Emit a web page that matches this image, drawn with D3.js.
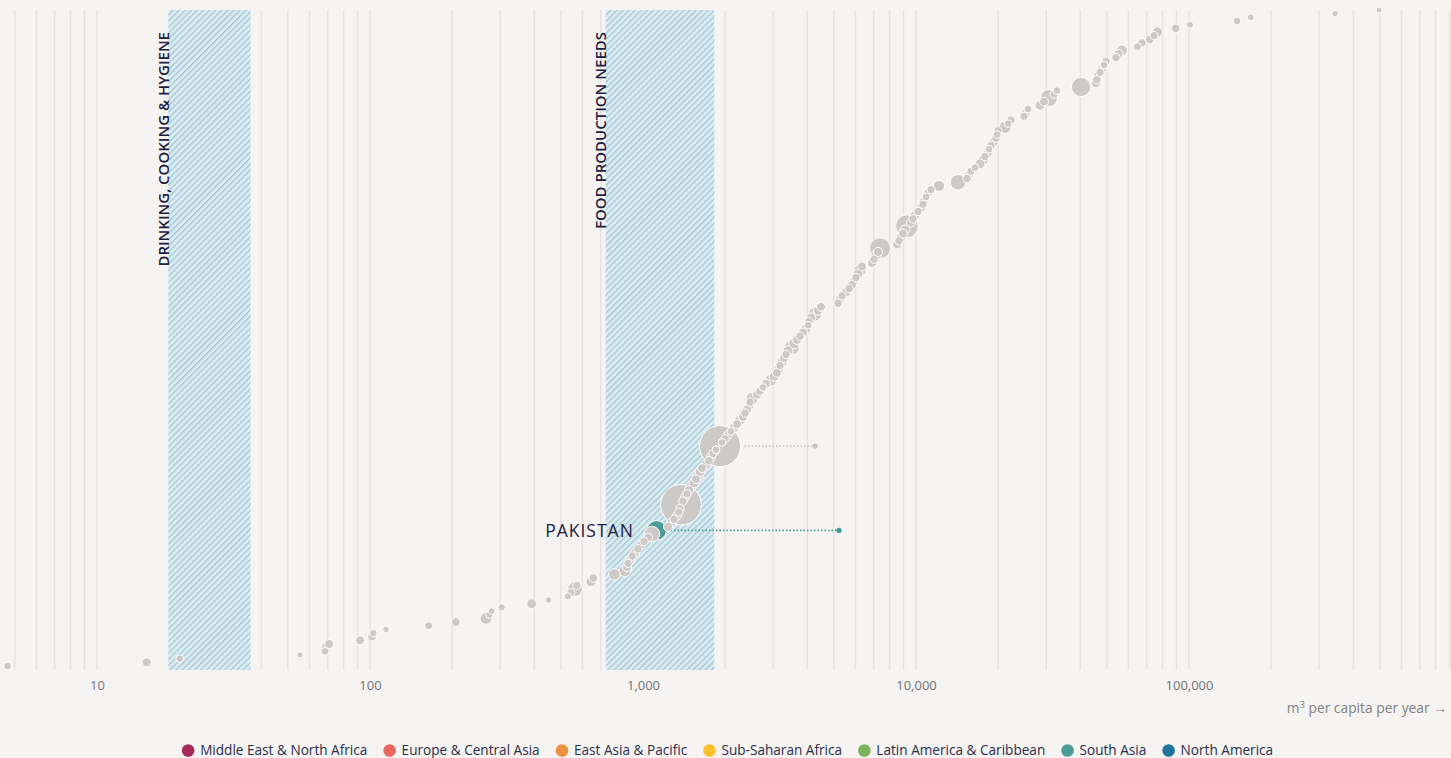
<!DOCTYPE html>
<html>
<head>
<meta charset="utf-8">
<script src="https://cdn.jsdelivr.net/npm/d3@7"></script>
<style>
  html, body { margin: 0; padding: 0; background: #f5f4f2; }
  svg { display: block; font-family: "Open Sans", sans-serif; }
</style>
</head>
<body>
<svg id="chart" width="1451" height="758"></svg>
<script>
// Renewable water per person (m³ per capita per year), one value per country, ascending
const waterPerCapita = [
  4.7, 15.2, 20.1, 55.4, 68.4, 69, 70.8, 91.9, 101.7, 102.8,
  114.5, 164, 206, 266, 273.5, 279, 303.7, 391, 451, 531,
  544, 564, 573, 645, 658, 785, 859, 874, 881, 896,
  912, 935, 958, 983, 1009, 1043, 1079, 1122, 1235, 1267,
  1299, 1332, 1355, 1366, 1378, 1401, 1425, 1449, 1474, 1499,
  1538, 1564, 1591, 1618, 1645, 1701, 1745, 1775, 1805, 1851,
  1915, 1947, 1997, 2048, 2101, 2155, 2210, 2266, 2324, 2364,
  2404, 2445, 2466, 2508, 2616, 2683, 2752, 2822, 2944, 3020,
  3097, 3149, 3176, 3230, 3285, 3341, 3398, 3515, 3575, 3666,
  3760, 3856, 3955, 4022, 4056, 4125, 4267, 4375, 4487, 5180,
  5268, 5358, 5542, 5684, 5830, 5930, 6030, 6133, 6237, 6343,
  6901, 7019, 7138, 7259, 7382, 8520, 8665, 8810, 8960, 9112,
  9268, 9587, 9750, 9916, 10170, 10430, 10610, 10700, 10880, 11070,
  11350, 12140, 14250, 15380, 15640, 15910, 16450, 17160, 17600, 17890,
  18350, 18510, 18820, 19310, 19630, 19800, 19970, 21180, 21730, 22280,
  24860, 25280, 25720, 28460, 29440, 30700, 32030, 32850, 40220, 45630,
  46020, 46410, 47210, 48010, 48830, 49660, 54040, 55190, 56840, 64760,
  67260, 71950, 74430, 76650, 89400, 100850, 149900, 168300, 342500, 496600
];

// Population in millions, same order as waterPerCapita
const population = [
  5, 14, 5, 0.5, 6, 20, 14, 12, 10, 5,
  1, 6, 12, 45, 4, 1.5, 3, 20, 1, 3,
  8, 100, 8, 22, 9, 40, 50, 14, 8, 14,
  9, 16, 9, 14, 9, 14, 110, 220, 14, 16,
  9, 12, 8, 9, 1380, 9, 12, 8, 14, 30,
  25, 12, 30, 20, 12, 25, 10, 14, 8, 6,
  1400, 5, 8, 10, 6, 20, 12, 25, 14, 9,
  12, 16, 8, 50, 12, 9, 6, 14, 45, 20,
  12, 16, 9, 25, 12, 8, 20, 100, 30, 14,
  9, 12, 20, 6, 9, 20, 70, 16, 12, 10,
  12, 8, 16, 9, 12, 14, 9, 20, 50, 12,
  14, 9, 25, 14, 270, 12, 8, 16, 12, 20,
  330, 12, 9, 16, 9, 12, 8, 10, 6, 9,
  8, 35, 110, 9, 12, 8, 6, 20, 25, 9,
  12, 6, 10, 14, 9, 6, 8, 50, 5, 9,
  8, 12, 6, 20, 12, 145, 8, 5, 210, 12,
  9, 14, 8, 12, 6, 9, 8, 12, 30, 6,
  9, 12, 8, 25, 10, 2, 5, 2, 0.5, 0.4
];

// Daily need ranges converted to yearly volumes (litres per day × 365 / 1000)
const needBandLabels = ["DRINKING, COOKING & HYGIENE", "FOOD PRODUCTION NEEDS"];
const needBandFrom = [18.25, 730];
const needBandTo = [36.5, 1825];

const tickValues = [10, 100, 1000, 10000, 100000];
const tickLabels = ["10", "100", "1,000", "10,000", "100,000"];

const regionNames = ["Middle East & North Africa", "Europe & Central Asia", "East Asia & Pacific",
  "Sub-Saharan Africa", "Latin America & Caribbean", "South Asia", "North America"];
const regionColors = ["#a52a5b", "#e8675f", "#ef903f", "#fcc12f", "#7db35c", "#4b9c97", "#1f759c"];

// Countries called out, with their 1962 per-capita water
const highlightIndex = 37;
const highlightLabel = "PAKISTAN";
const highlightRegion = "South Asia";
const highlightEarlier = 5225;
const tracedIndex = 60;
const tracedEarlier = 4270;

const W = 1451, H = 758;
const plotTop = 10, plotBottom = 670;
const svg = d3.select("#chart");

const x = d3.scaleLog().domain([10, 100000]).range([97, 1189]);
const y = d3.scaleLinear().domain([0, waterPerCapita.length - 1]).range([666, 10]);
const r = d3.scaleSqrt().domain([0, 1400]).range([2.8, 20.5]);

const grey = "#cdc9c6";
const teal = regionColors[regionNames.indexOf(highlightRegion)];

// Hatch pattern for the need bands
const defs = svg.append("defs");
const pat = defs.append("pattern")
  .attr("id", "hatch").attr("patternUnits", "userSpaceOnUse")
  .attr("width", 4.3).attr("height", 4.3)
  .attr("patternTransform", "rotate(45)");
pat.append("rect").attr("width", 4.3).attr("height", 4.3).attr("fill", "#d6ecf3");
pat.append("line").attr("x1", 0.6).attr("y1", 0).attr("x2", 0.6).attr("y2", 4.3)
  .attr("stroke", "#a3bac4").attr("stroke-width", 1);

// Log grid lines at every 1–9 multiple inside the plot width
const gridValues = [];
for (let k = 0; k <= 5; k++) {
  for (let m = 1; m <= 9; m++) {
    const v = m * Math.pow(10, k);
    const px = x(v);
    if (px > 2 && px < W - 1) gridValues.push(v);
  }
}
svg.append("g").selectAll("line").data(gridValues).join("line")
  .attr("x1", d => x(d)).attr("x2", d => x(d))
  .attr("y1", plotTop).attr("y2", plotBottom)
  .attr("stroke", "#e6e4e1").attr("stroke-width", 1.5);

// Need bands
const bands = svg.append("g");
needBandLabels.forEach((label, i) => {
  const x0 = x(needBandFrom[i]), x1 = x(needBandTo[i]);
  bands.append("rect")
    .attr("x", x0).attr("y", plotTop).attr("width", x1 - x0).attr("height", plotBottom - plotTop)
    .attr("fill", "url(#hatch)");
  bands.append("text")
    .attr("transform", `translate(${x0 + 0.5},${plotTop + 22}) rotate(-90)`)
    .attr("text-anchor", "end")
    .attr("font-size", 15).attr("font-weight", 600)
    .attr("fill", "#1e2040")
    .text(label);
});

// Axis tick labels
const axis = d3.axisBottom(x).tickValues(tickValues)
  .tickFormat((d, i) => tickLabels[i]).tickSize(0).tickPadding(0);
const axisG = svg.append("g").attr("transform", `translate(0,${plotBottom + 11})`).call(axis);
axisG.select(".domain").remove();
axisG.selectAll("text")
  .attr("font-family", "Open Sans, sans-serif")
  .attr("font-size", 13).attr("fill", "#727272").attr("dy", "0.71em");

// Axis title
const title = svg.append("text")
  .attr("x", W - 4).attr("y", 713).attr("text-anchor", "end")
  .attr("font-size", 13.8).attr("fill", "#808080");
title.append("tspan").text("m");
title.append("tspan").attr("dy", -5).attr("font-size", 9.5).text("3");
title.append("tspan").attr("dy", 5).text(" per capita per year \u2192");

// Dotted lines from today's value to the 1962 value
function trace(index, earlier, color) {
  const cx = x(waterPerCapita[index]);
  const cy = y(index);
  const rad = r(population[index]);
  svg.append("line")
    .attr("x1", cx + rad + 4).attr("x2", x(earlier))
    .attr("y1", cy).attr("y2", cy)
    .attr("stroke", color).attr("stroke-width", 1.6)
    .attr("stroke-dasharray", "1.5 2");
  svg.append("circle").attr("cx", x(earlier)).attr("cy", cy).attr("r", 2.6).attr("fill", color);
}
trace(tracedIndex, tracedEarlier, "#c8c4c1");
trace(highlightIndex, highlightEarlier, teal);

// Country circles, biggest drawn first so small ones stay visible on top
const points = waterPerCapita.map((v, i) => ({ i, v, pop: population[i] }));
points.sort((a, b) => b.pop - a.pop);
svg.append("g").selectAll("circle").data(points).join("circle")
  .attr("cx", d => x(d.v)).attr("cy", d => y(d.i)).attr("r", d => r(d.pop))
  .attr("fill", d => d.i === highlightIndex ? teal : grey)
  .attr("stroke", "#ffffff").attr("stroke-width", 1);

// Label for the highlighted country
svg.append("text")
  .attr("x", x(waterPerCapita[highlightIndex]) - r(population[highlightIndex]) - 13)
  .attr("y", y(highlightIndex)).attr("dy", "0.35em")
  .attr("text-anchor", "end").attr("font-size", 17.5).attr("letter-spacing", 1)
  .attr("fill", "#1e2040").text(highlightLabel);

// Legend, centred under the chart
const legend = svg.append("g");
let cursor = 0;
regionNames.forEach((name, i) => {
  const g = legend.append("g");
  g.append("circle").attr("cx", 6.3).attr("cy", 0).attr("r", 6.3).attr("fill", regionColors[i]);
  const t = g.append("text").attr("x", 18.3).attr("dy", "0.35em")
    .attr("font-size", 13.6).attr("fill", "#2b2d4a").text(name);
  const w = 18.3 + t.node().getComputedTextLength();
  g.attr("transform", `translate(${cursor},0)`);
  cursor += w + 16;
});
const legendWidth = cursor - 16;
legend.attr("transform", `translate(${(W - legendWidth) / 2 + 2},750.5)`);
</script>
</body>
</html>
